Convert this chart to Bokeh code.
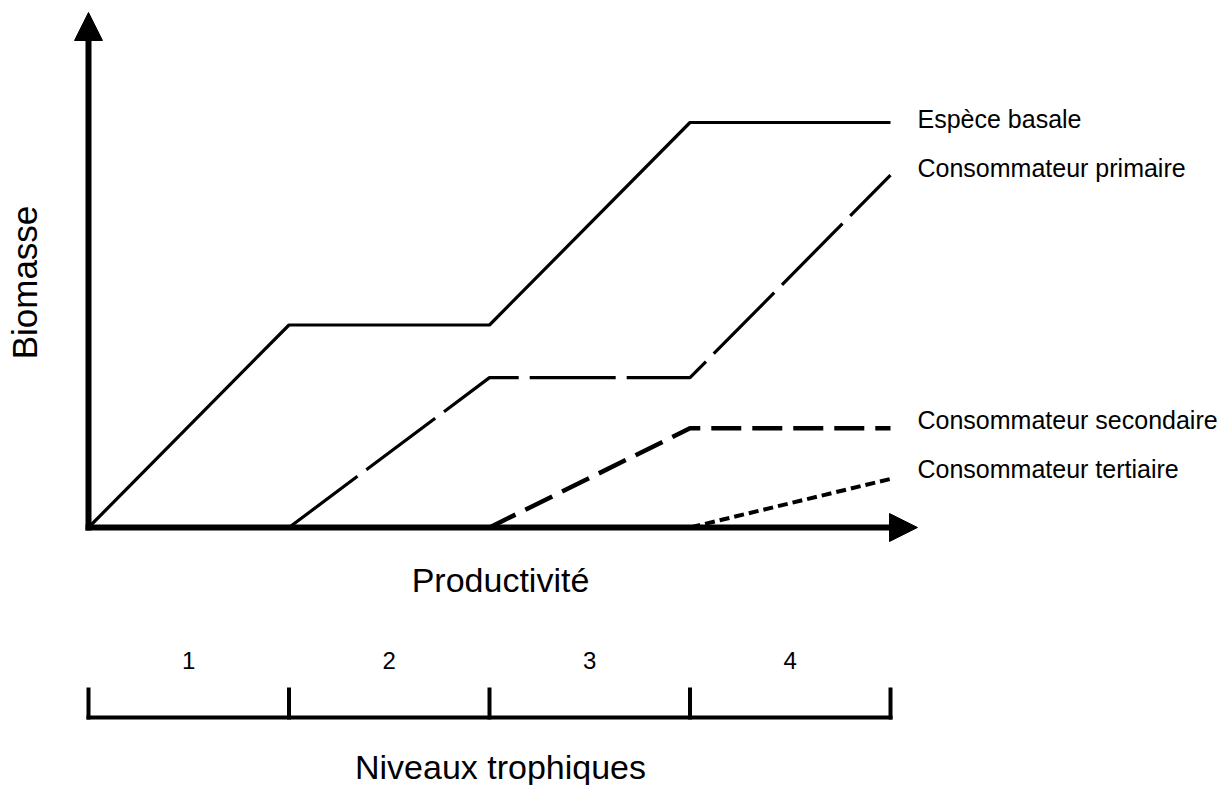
import math
from bokeh.plotting import figure
from bokeh.models import Arrow, NormalHead, Range1d, ColumnDataSource
from bokeh.core.properties import value
from bokeh.embed import file_html
from bokeh.resources import INLINE

# ---- data ----
productivity = [0, 1, 2, 3, 4]
espece_basale = [0, 1, 1, 2, 2]
consommateur_primaire = [0, 0, 0.74, 0.74, 1.74]
consommateur_secondaire = [0, 0, 0, 0.49, 0.49]
consommateur_tertiaire = [0, 0, 0, 0, 0.24]
series_names = ["Espèce basale", "Consommateur primaire",
                "Consommateur secondaire", "Consommateur tertiaire"]
trophic_levels = ["1", "2", "3", "4"]
level_centers = [0.5, 1.5, 2.5, 3.5]
level_bounds = [0, 1, 2, 3, 4]
x_title = "Productivité"
y_title = "Biomasse"
scale_title = "Niveaux trophiques"

# ---- layout (pixel geometry of the canvas) ----
W, H = 1220, 785
PX_X0, PX_UNIT_X = 88, 200.5      # canvas x of x=0, px per x unit
PX_Y0, PX_UNIT_Y = 527, 202.5     # canvas y of y=0, px per y unit

def dx(px):
    return (px - PX_X0) / PX_UNIT_X

def dy(py):
    return (PX_Y0 - py) / PX_UNIT_Y

p = figure(width=W, height=H, output_backend="svg", toolbar_location=None,
           x_range=Range1d(dx(0), dx(W)), y_range=Range1d(dy(H), dy(0)),
           min_border=0, outline_line_color=None)
p.axis.visible = False
p.grid.visible = False

FONT = value("Liberation Sans")

# ---- series ----
p.line(productivity, espece_basale, line_color="black", line_width=3.2)
p.line(productivity, consommateur_primaire, line_color="black", line_width=3.2,
       line_dash="86 11", line_dash_offset=91)
p.line(productivity, consommateur_secondaire, line_color="black", line_width=4.5,
       line_dash="30 11", line_dash_offset=10)
p.line(productivity, consommateur_tertiaire, line_color="black", line_width=4,
       line_dash="10 5", line_dash_offset=13)

# ---- series labels ----
ends = [espece_basale[-1], consommateur_primaire[-1],
        consommateur_secondaire[-1], consommateur_tertiaire[-1]]
lab_src = ColumnDataSource(dict(x=[productivity[-1]] * 4, y=ends, text=series_names,
                                yo=[-4, -7, -8, -10]))
p.text(x="x", y="y", text="text", source=lab_src, x_offset=27, y_offset="yo",
       text_font=FONT, text_font_size="25px", text_color="black",
       text_align="left", text_baseline="middle")

# ---- axes with arrow heads ----
p.add_layout(Arrow(end=NormalHead(size=28, fill_color="black", line_color="black", line_width=1),
                   x_start=0, y_start=dy(530), x_end=0, y_end=dy(12),
                   line_color="black", line_width=6))
p.add_layout(Arrow(end=NormalHead(size=28, fill_color="black", line_color="black", line_width=1),
                   x_start=dx(85), y_start=0, x_end=dx(917), y_end=0,
                   line_color="black", line_width=6))

# ---- axis titles ----
p.text(x=[dx(500)], y=[dy(579)], text=[x_title], text_font=FONT, text_font_size="34px",
       text_color="black", text_align="center", text_baseline="middle")
p.text(x=[dx(24)], y=[dy(282)], text=[y_title], text_font=FONT, text_font_size="35px",
       text_color="black", text_align="center", text_baseline="middle", angle=math.pi / 2)

# ---- trophic level scale ----
bracket_y = dy(717)
tick_top = dy(689)
p.segment(x0=[level_bounds[0]], y0=[bracket_y], x1=[level_bounds[-1]], y1=[bracket_y],
          line_color="black", line_width=4, line_cap="square")
p.segment(x0=level_bounds, y0=[bracket_y] * len(level_bounds), x1=level_bounds,
          y1=[tick_top] * len(level_bounds), line_color="black", line_width=4, line_cap="square")
p.text(x=level_centers, y=[dy(660)] * 4, text=trophic_levels, text_font=FONT,
       text_font_size="24px", text_color="black", text_align="center", text_baseline="middle")
p.text(x=[dx(500)], y=[dy(766)], text=[scale_title], text_font=FONT, text_font_size="34px",
       text_color="black", text_align="center", text_baseline="middle")

open("out.html", "w").write(file_html(p, INLINE))
